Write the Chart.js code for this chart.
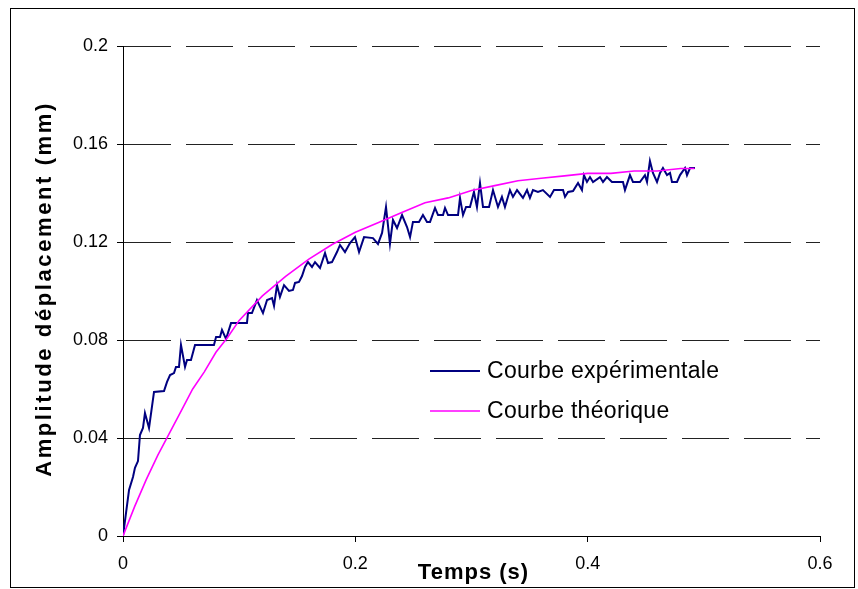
<!DOCTYPE html>
<html>
<head>
<meta charset="utf-8">
<script src="https://cdn.jsdelivr.net/npm/chart.js@4.4.1/dist/chart.umd.min.js"></script>
<style>
  body { margin: 0; background: #fff; }
  canvas { display: block; }
</style>
</head>
<body>
<canvas id="chart" width="858" height="589"></canvas>
<script>
const expT = [0, 0.0052, 0.0086, 0.0103, 0.0129, 0.0146, 0.0172, 0.0189, 0.0224, 0.0267,
  0.0353, 0.0379, 0.0405, 0.0439, 0.0456, 0.0482, 0.0499, 0.0534, 0.0551, 0.0585,
  0.0620, 0.0783, 0.0801, 0.0835, 0.0852, 0.0887, 0.0930, 0.1067, 0.1076, 0.1110,
  0.1153, 0.1205, 0.1240, 0.1283, 0.1300, 0.1326, 0.1351, 0.1386, 0.1429, 0.1463,
  0.1481, 0.1515, 0.1541, 0.1567, 0.1592, 0.1627, 0.1653, 0.1696, 0.1739, 0.1765,
  0.1799, 0.1842, 0.1868, 0.1911, 0.1954, 0.1997, 0.2032, 0.2075, 0.2152, 0.2195,
  0.2230, 0.2264, 0.2298, 0.2324, 0.2359, 0.2402, 0.2445, 0.2471, 0.2496, 0.2548,
  0.2582, 0.2617, 0.2643, 0.2686, 0.2712, 0.2755, 0.2772, 0.2798, 0.2884, 0.2901,
  0.2927, 0.2953, 0.2987, 0.3021, 0.3047, 0.3073, 0.3099, 0.3151, 0.3185, 0.3228,
  0.3262, 0.3288, 0.3331, 0.3357, 0.3392, 0.3443, 0.3478, 0.3503, 0.3529, 0.3572,
  0.3615, 0.3676, 0.3710, 0.3788, 0.3805, 0.3831, 0.3874, 0.3917, 0.3951, 0.3968,
  0.3994, 0.4020, 0.4046, 0.4106, 0.4132, 0.4166, 0.4209, 0.4304, 0.4321, 0.4364,
  0.4390, 0.4450, 0.4493, 0.4511, 0.4536, 0.4562, 0.4597, 0.4623, 0.4648, 0.4683,
  0.4709, 0.4726, 0.4769, 0.4795, 0.4838, 0.4855, 0.4881, 0.4924];
const expV = [0, 0.0188, 0.0241, 0.0278, 0.0306, 0.0412, 0.0441, 0.0502, 0.0441, 0.0588,
  0.0592, 0.0629, 0.0657, 0.0665, 0.0690, 0.0690, 0.0780, 0.0690, 0.0718, 0.0718,
  0.0780, 0.0780, 0.0812, 0.0812, 0.0841, 0.0804, 0.0869, 0.0869, 0.0910, 0.0910,
  0.0963, 0.0910, 0.0963, 0.0971, 0.0939, 0.1024, 0.0976, 0.1024, 0.1000, 0.1004,
  0.1033, 0.1037, 0.1061, 0.1098, 0.1118, 0.1098, 0.1118, 0.1094, 0.1155, 0.1114,
  0.1118, 0.1159, 0.1188, 0.1159, 0.1196, 0.1220, 0.1159, 0.1220, 0.1216, 0.1192,
  0.1237, 0.1343, 0.1192, 0.1290, 0.1257, 0.1310, 0.1261, 0.1220, 0.1282, 0.1282,
  0.1310, 0.1282, 0.1282, 0.1339, 0.1310, 0.1310, 0.1339, 0.1310, 0.1310, 0.1380,
  0.1310, 0.1343, 0.1343, 0.1404, 0.1343, 0.1441, 0.1343, 0.1343, 0.1412, 0.1343,
  0.1384, 0.1343, 0.1412, 0.1384, 0.1412, 0.1380, 0.1412, 0.1380, 0.1412, 0.1404,
  0.1412, 0.1384, 0.1412, 0.1412, 0.1384, 0.1404, 0.1408, 0.1441, 0.1412, 0.1473,
  0.1445, 0.1465, 0.1445, 0.1465, 0.1445, 0.1465, 0.1445, 0.1445, 0.1412, 0.1473,
  0.1445, 0.1445, 0.1473, 0.1445, 0.1531, 0.1482, 0.1445, 0.1482, 0.1502, 0.1473,
  0.1482, 0.1445, 0.1445, 0.1473, 0.1502, 0.1473, 0.1502, 0.1502];

const theoryT = [0, 0.01, 0.02, 0.03, 0.04, 0.05, 0.06, 0.07, 0.08, 0.09, 0.10, 0.12, 0.14,
  0.16, 0.18, 0.20, 0.22, 0.24, 0.26, 0.28, 0.30, 0.32, 0.34, 0.36, 0.38, 0.40, 0.42,
  0.44, 0.46, 0.48, 0.492];
const theoryV = [0, 0.012, 0.023, 0.033, 0.042, 0.051, 0.060, 0.067, 0.075, 0.081, 0.088,
  0.098, 0.106, 0.113, 0.119, 0.124, 0.128, 0.132, 0.136, 0.138, 0.141, 0.143, 0.145,
  0.146, 0.147, 0.148, 0.148, 0.149, 0.149, 0.150, 0.150];

const seriesLabels = ['Courbe expérimentale', 'Courbe théorique'];
const xTitle = 'Temps (s)';
const yTitle = 'Amplitude déplacement (mm)';

const FONT = '"Liberation Sans", Arial, sans-serif';
const toPoints = (xs, ys) => xs.map((x, i) => ({ x, y: ys[i] }));

// legend sits inside the plot, Excel style
const insideLegend = {
  id: 'insideLegend',
  afterDraw: chart => {
    const ctx = chart.ctx;
    ctx.save();
    ctx.font = `23px ${FONT}`;
    ctx.letterSpacing = '0.3px';
    ctx.textBaseline = 'middle';
    ctx.fillStyle = '#000';
    chart.data.datasets.forEach((ds, i) => {
      const y = 371 + i * 40;
      ctx.beginPath();
      ctx.moveTo(430, y);
      ctx.lineTo(480, y);
      ctx.lineWidth = ds.borderWidth;
      ctx.strokeStyle = ds.borderColor;
      ctx.stroke();
      ctx.fillText(ds.label, 487, y + 1);
    });
    ctx.restore();
  },
};

// axis titles drawn by hand so they can be spaced out like the Excel original
const axisTitles = {
  id: 'axisTitles',
  afterDraw: chart => {
    const { ctx, chartArea: a } = chart;
    ctx.save();
    ctx.fillStyle = '#000';
    ctx.textAlign = 'center';
    ctx.textBaseline = 'middle';
    ctx.font = `bold 22px ${FONT}`;
    ctx.letterSpacing = '1px';
    ctx.fillText(xTitle, (a.left + a.right) / 2 + 2, 573);
    ctx.translate(45, (a.top + a.bottom) / 2 - 2);
    ctx.rotate(-Math.PI / 2);
    ctx.letterSpacing = '2.6px';
    ctx.fillText(yTitle, 0, 0);
    ctx.restore();
  },
};

const frame = {
  id: 'frame',
  afterDraw: chart => {
    const ctx = chart.ctx;
    ctx.save();
    ctx.strokeStyle = '#000';
    ctx.lineWidth = 1;
    ctx.strokeRect(10.5, 8.5, 844, 579);
    ctx.restore();
  },
};

const tickFont = { family: FONT, size: 18 };

new Chart(document.getElementById('chart'), {
  type: 'scatter',
  data: {
    datasets: [
      { label: seriesLabels[0], data: toPoints(expT, expV), showLine: true, borderColor: '#000080', borderWidth: 2, pointRadius: 0, order: 2 },
      { label: seriesLabels[1], data: toPoints(theoryT, theoryV), showLine: true, borderColor: '#ff00ff', borderWidth: 1.6, pointRadius: 0, order: 1 },
    ],
  },
  options: {
    responsive: false,
    animation: false,
    layout: { padding: { top: 46, right: 38, left: 0, bottom: 0 } },
    scales: {
      x: {
        type: 'linear', min: 0, max: 0.6,
        afterFit: s => { s.height = 53; },
        ticks: { stepSize: 0.2, color: '#000', font: tickFont, padding: 11, maxRotation: 0, callback: v => String(+v.toFixed(1)) },
        grid: { drawOnChartArea: false, drawTicks: true, tickLength: 6, color: '#000', tickColor: '#000' },
        border: { display: true, color: '#000', width: 1 },
      },
      y: {
        type: 'linear', min: 0, max: 0.2,
        afterFit: s => { s.width = 123; },
        ticks: { stepSize: 0.04, color: '#000', font: tickFont, padding: 9, callback: v => String(+v.toFixed(2)) },
        grid: { color: '#222', tickColor: '#000', tickLength: 6, lineWidth: 1 },
        border: { display: true, color: '#000', width: 1, dash: [47, 15] },
      },
    },
    plugins: {
      legend: { display: false },
      tooltip: { enabled: false },
    },
  },
  plugins: [insideLegend, axisTitles, frame],
});
</script>
</body>
</html>
